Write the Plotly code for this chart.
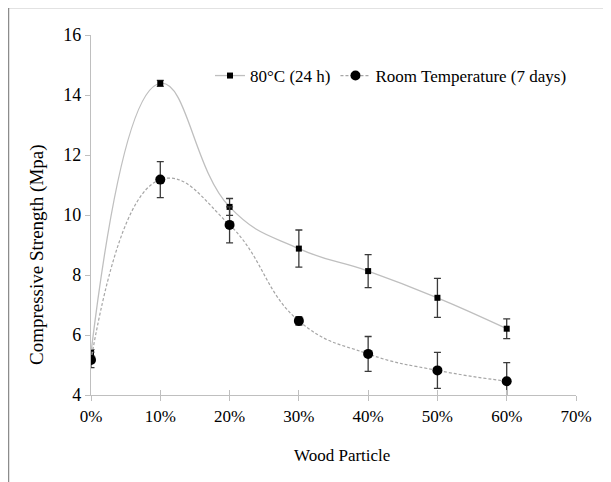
import plotly.graph_objects as go

# Data
wood_particle = [0.0, 0.1, 0.2, 0.3, 0.4, 0.5, 0.6]
strength_80c = [5.41, 14.39, 10.27, 8.88, 8.13, 7.24, 6.21]
err_80c = [0.10, 0.10, 0.28, 0.62, 0.55, 0.65, 0.33]
strength_rt = [5.17, 11.18, 9.67, 6.47, 5.37, 4.82, 4.46]
err_rt = [0.26, 0.60, 0.60, 0.14, 0.58, 0.60, 0.62]
series_names = ["80°C (24 h)", "Room Temperature (7 days)"]
x_ticks = [0.0, 0.1, 0.2, 0.3, 0.4, 0.5, 0.6, 0.7]
y_ticks = [4, 6, 8, 10, 12, 14, 16]

FONT = "Liberation Serif"
W, H = 611, 482
OFF = 8  # page body offset
PX0, PX1, PY0, PY1 = 91, 576, 35, 395
L, T = PX0 - OFF, PY0 - OFF
R, B = W - (PX1 - OFF), H - (PY1 - OFF)
PW, PH = PX1 - PX0, PY1 - PY0


def sx(x):
    return (x - PX0) / PW


def sy(y):
    return (PY1 - y) / PH


fig = go.Figure()
fig.add_trace(go.Scatter(
    x=wood_particle, y=strength_80c, name=series_names[0],
    mode="lines+markers",
    line=dict(color="#BFBFBF", width=1.3, shape="spline", smoothing=1.3),
    marker=dict(symbol="square", size=6, color="black"),
    error_y=dict(type="data", array=err_80c, visible=True, color="#3a3a3a", thickness=1.3, width=3.5),
))
fig.add_trace(go.Scatter(
    x=wood_particle, y=strength_rt, name=series_names[1],
    mode="lines+markers",
    line=dict(color="#A6A6A6", width=1.2, dash="3px,2px", shape="spline", smoothing=1.3),
    marker=dict(symbol="circle", size=10, color="black"),
    error_y=dict(type="data", array=err_rt, visible=True, color="#3a3a3a", thickness=1.3, width=3.5),
))
fig.add_trace(go.Scatter(x=[0], y=[4], xaxis="x2", showlegend=False, mode="markers",
                         marker=dict(opacity=0), hoverinfo="skip"))

fig.update_layout(
    width=W, height=H,
    margin=dict(l=L, r=R, t=T, b=B, pad=0),
    paper_bgcolor="white", plot_bgcolor="white",
    font=dict(family=FONT, size=17, color="black"),
    showlegend=True,
    legend=dict(orientation="h", x=sx(210), y=sy(76),
                xanchor="left", yanchor="middle", bgcolor="rgba(0,0,0,0)",
                font=dict(family=FONT, size=17, color="black"),
                itemwidth=30, tracegroupgap=0),
    xaxis=dict(range=[0, 0.7], tickvals=x_ticks, tickformat=".0%",
               showline=True, linecolor="#BFBFBF", linewidth=1.3,
               ticks="outside", ticklen=5, tickcolor="#BFBFBF", tickwidth=1.3,
               showgrid=False, zeroline=False,
               tickfont=dict(family=FONT, size=17, color="black")),
    xaxis2=dict(range=[0, 0.7], tickvals=x_ticks, overlaying="x", side="bottom",
                showticklabels=False, ticks="inside", ticklen=5, tickcolor="#BFBFBF",
                tickwidth=1.3, showline=False, showgrid=False, zeroline=False),
    yaxis=dict(range=[4, 16], tickvals=y_ticks,
               showline=True, linecolor="#BFBFBF", linewidth=1.3,
               ticks="outside", ticklen=5, tickcolor="#BFBFBF", tickwidth=1.3,
               showgrid=False, zeroline=False,
               tickfont=dict(family=FONT, size=18, color="black")),
    annotations=[
        dict(text="Compressive Strength (Mpa)", xref="paper", yref="paper",
             x=sx(37), y=sy(255),
             xanchor="center", yanchor="middle", textangle=-90, showarrow=False,
             font=dict(family=FONT, size=19, color="black")),
        dict(text="Wood Particle", xref="paper", yref="paper",
             x=sx(342), y=sy(455),
             xanchor="center", yanchor="middle", showarrow=False,
             font=dict(family=FONT, size=17, color="black")),
    ],
    shapes=[
        dict(type="rect", xref="paper", yref="paper",
             x0=sx(8.5), x1=sx(630), y0=sy(500), y1=sy(7.5),
             line=dict(color="#8c8c8c", width=1.5), layer="below"),
    ],
)

fig.write_html("out.html")
